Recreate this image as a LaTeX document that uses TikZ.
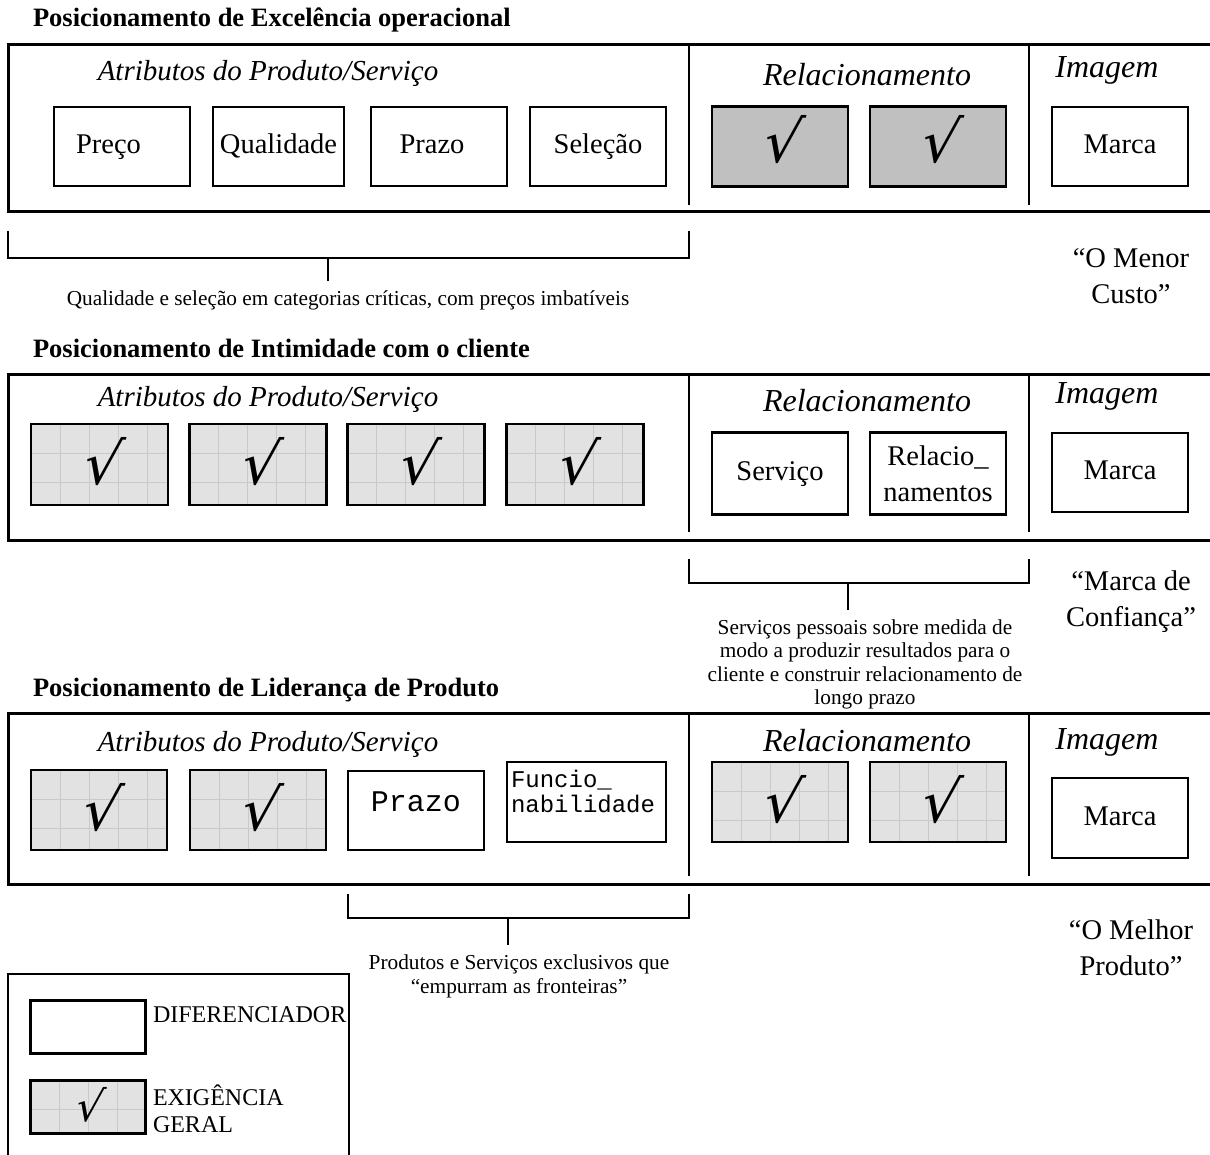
\documentclass[tikz,border=0pt]{standalone}
\usepackage{fontspec}
\setmainfont{Liberation Serif}
\setmonofont{Liberation Mono}
\newfontfamily\chkfont[FakeSlant=0.18]{DejaVu Sans}
\usetikzlibrary{calc}

\definecolor{reqsolid}{RGB}{192,192,192}
\definecolor{reqfill}{RGB}{226,226,226}
\definecolor{gridln}{RGB}{201,201,201}

\newcommand\titlefont{\fontsize{26.5}{30}\selectfont\bfseries}
\newcommand\headfont{\fontsize{29}{33}\selectfont\itshape}
\newcommand\bigheadfont{\fontsize{32}{36}\selectfont\itshape}
\newcommand\bodyfont{\fontsize{28.5}{36}\selectfont}
\newcommand\notefont{\fontsize{21.3}{23.5}\selectfont}
\newcommand\legfont{\fontsize{24}{27}\selectfont}
\newcommand\chkbig{\chkfont\fontsize{58}{58}\selectfont}
\newcommand\chksmall{\chkfont\fontsize{42}{42}\selectfont}

\begin{document}
\begin{tikzpicture}[x=1pt,y=-1pt,
  every node/.style={inner sep=0pt, outer sep=0pt},
  frame/.style={line width=3pt},
  divider/.style={line width=2.5pt},
  bracket/.style={line width=2pt},
  title/.style={anchor=west, font=\titlefont},
  heading/.style={font=\headfont},
  bigheading/.style={font=\bigheadfont},
  box/.style={draw, line width=2.5pt, font=\bodyfont, align=center},
  plainbox/.style={box, fill=white, text height=21pt, text depth=7pt},
  multibox/.style={box, fill=white},
  boxtext/.style={font=\bodyfont, text height=21pt, text depth=7pt},
  chk/.style={text height=46pt, text depth=6pt},
  solidreq/.style={box, fill=reqsolid, font=\chkbig, text height=40pt, text depth=8pt},
  gridreq/.style={box, fill=reqfill, font=\chkbig, chk,
    path picture={
      \foreach \k in {1,...,6}{
        \draw[gridln, line width=1pt]
          ($(path picture bounding box.north west)+(\k*29pt,0pt)$) -- ++(0pt,-150pt);
        \draw[gridln, line width=1pt]
          ($(path picture bounding box.north west)+(0pt,-\k*29pt)$) -- ++(250pt,0pt);
      }}},
  note/.style={font=\notefont, align=center},
  slogan/.style={font=\bodyfont, align=center},
  legtext/.style={font=\legfont, anchor=west, align=left},
]
\clip (0,0) rectangle (1210,1155);

% ---------- Operational excellence ----------
\node[title] (t1) at (33,20) {Posicionamento de Excelência operacional};
\draw[frame] (8,45) rectangle (1216,212);
\draw[divider] (689,45) -- (689,205);
\draw[divider] (1029,45) -- (1029,205);
\node[heading] (h1a) at (268,73) {Atributos do Produto/Serviço};
\node[bigheading] (h1b) at (867,75) {Relacionamento};
\node[bigheading] (h1c) at (1107,70) {Imagem};
\node[plainbox, minimum width=136, minimum height=79] (p1a) at (122,146.5) {};
\node[boxtext] (p1at) at (108.5,146.5) {Preço};
\node[plainbox, minimum width=131, minimum height=79] (p1b) at (278.5,146.5) {Qualidade};
\node[plainbox, minimum width=136, minimum height=79] (p1c) at (439,146.5) {};
\node[boxtext] (p1ct) at (432,146.5) {Prazo};
\node[plainbox, minimum width=136, minimum height=79] (p1d) at (598,146.5) {Seleção};
\node[solidreq, minimum width=136, minimum height=80] (p1e) at (780,146.5) {√};
\node[solidreq, minimum width=136, minimum height=80] (p1f) at (938,146.5) {√};
\node[plainbox, minimum width=136, minimum height=79] (p1g) at (1120,146.5) {Marca};

\coordinate (b1l) at (8,231);
\coordinate (b1r) at (689,231);
\coordinate (b1m) at (328,258);
\draw[bracket] (b1l) -- (8,258) -- (689,258) -- (b1r);
\node[note] (n1) at (348,300) {Qualidade e seleção em categorias críticas, com preços imbatíveis};
\draw[bracket] (b1m) -- (b1m |- 0,281);
\node[slogan] (s1) at (1131,276) {“O Menor\\ Custo”};

% ---------- Customer intimacy ----------
\node[title] (t2) at (33,348) {Posicionamento de Intimidade com o cliente};
\draw[frame] (8,375) rectangle (1216,540);
\draw[divider] (689,375) -- (689,532);
\draw[divider] (1029,375) -- (1029,532);
\node[heading] (h2a) at (268,399) {Atributos do Produto/Serviço};
\node[bigheading] (h2b) at (867,401) {Relacionamento};
\node[bigheading] (h2c) at (1107,396) {Imagem};
\node[gridreq, minimum width=137, minimum height=81] (p2a) at (99.5,464.5) {√};
\node[gridreq, minimum width=137, minimum height=81] (p2b) at (258,464.5) {√};
\node[gridreq, minimum width=137, minimum height=81] (p2c) at (416,464.5) {√};
\node[gridreq, minimum width=137, minimum height=81] (p2d) at (575,464.5) {√};
\node[plainbox, minimum width=136, minimum height=82] (p2e) at (780,473.5) {Serviço};
\node[multibox, minimum width=136, minimum height=82] (p2f) at (938,473.5) {Relacio\_\\ namentos};
\node[plainbox, minimum width=136, minimum height=79] (p2g) at (1120,472.5) {Marca};

\coordinate (b2l) at (689,559);
\coordinate (b2r) at (1029,559);
\coordinate (b2m) at (848,583);
\draw[bracket] (b2l) -- (689,583) -- (1029,583) -- (b2r);
\node[note] (n2) at (865,664.5) {Serviços pessoais sobre medida de\\ modo a produzir resultados para o\\ cliente e construir relacionamento de\\ longo prazo};
\draw[bracket] (b2m) -- (b2m |- 0,610);
\node[slogan] (s2) at (1131,602) {“Marca de\\ Confiança”};

% ---------- Product leadership ----------
\node[title] (t3) at (33,690) {Posicionamento de Liderança de Produto};
\draw[frame] (8,713) rectangle (1216,884);
\draw[divider] (689,713) -- (689,876);
\draw[divider] (1029,713) -- (1029,876);
\node[heading] (h3a) at (268,744) {Atributos do Produto/Serviço};
\node[bigheading] (h3b) at (867,741) {Relacionamento};
\node[bigheading] (h3c) at (1107,742) {Imagem};
\node[gridreq, minimum width=136, minimum height=80] (p3a) at (99,810) {√};
\node[gridreq, minimum width=136, minimum height=80] (p3b) at (258,810) {√};
\node[box, fill=white, minimum width=136, minimum height=79,
  font=\ttfamily\fontsize{30}{34}\selectfont, text height=14pt, text depth=12pt] (p3c) at (416,810.5) {Prazo};
\node[multibox, minimum width=159, minimum height=80] (p3d) at (586.5,802) {};
\node[anchor=north west, align=left, font=\ttfamily\fontsize{24}{25.5}\selectfont]
  (p3dtxt) at ($(p3d.north west)+(4,8)$) {Funcio\_\\ nabilidade};
\node[gridreq, minimum width=136, minimum height=80] (p3e) at (780,802) {√};
\node[gridreq, minimum width=136, minimum height=80] (p3f) at (938,802) {√};
\node[plainbox, minimum width=136, minimum height=80] (p3g) at (1120,818) {Marca};

\coordinate (b3l) at (348,894);
\coordinate (b3r) at (689,894);
\coordinate (b3m) at (508,918);
\draw[bracket] (b3l) -- (348,918) -- (689,918) -- (b3r);
\node[note] (n3) at (519,976.5) {Produtos e Serviços exclusivos que\\ “empurram as fronteiras”};
\draw[bracket] (b3m) -- (b3m |- 0,945);
\node[slogan] (s3) at (1131,947.5) {“O Melhor\\ Produto”};

% ---------- Legend ----------
\draw[divider] (8,974) rectangle (349,1175);
\node[plainbox, minimum width=115, minimum height=53] (l1) at (88,1027) {};
\node[legtext] (l1t) at (153,1015) {DIFERENCIADOR};
\node[gridreq, minimum width=115, minimum height=53, font=\chksmall,
  text height=34pt, text depth=5pt] (l2) at (88,1107) {√};
\node[legtext] (l2t) at (153,1109) {EXIGÊNCIA\\ GERAL};
\end{tikzpicture}
\end{document}
